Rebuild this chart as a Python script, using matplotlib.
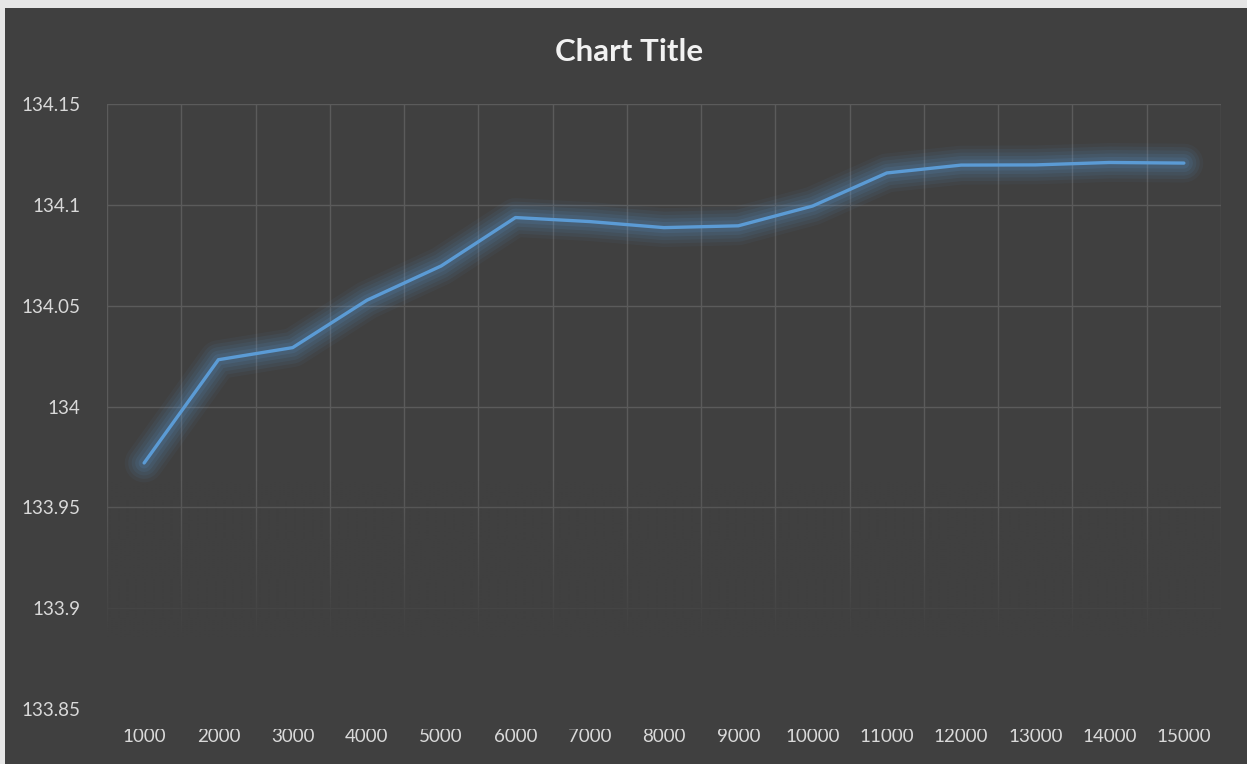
import numpy as np
import matplotlib
matplotlib.use("Agg")
import matplotlib.pyplot as plt
from matplotlib.patches import Rectangle
from matplotlib.ticker import FixedLocator

# sample sizes and the measured value for each
categories = ["1000", "2000", "3000", "4000", "5000", "6000", "7000", "8000",
              "9000", "10000", "11000", "12000", "13000", "14000", "15000"]
values = [133.972, 134.0232, 134.0292, 134.0527, 134.0697, 134.0937, 134.0917,
          134.0887, 134.0896, 134.0994, 134.1158, 134.1197, 134.1198, 134.1210,
          134.1207]
y_ticks = [133.85, 133.9, 133.95, 134.0, 134.05, 134.1, 134.15]
y_tick_labels = ["133.85", "133.9", "133.95", "134", "134.05", "134.1", "134.15"]

bg = "#404040"
grid_col = "#5b5b5b"
text_col = "#d9d9d9"
line_col = "#5b9bd5"

plt.rcParams["font.family"] = ["Lato", "DejaVu Sans"]

fig = plt.figure(figsize=(12.47, 7.64), dpi=100, facecolor=bg)
# thin light strip along the top and left edges
for r in [(0, 1 - 8 / 764, 1, 8 / 764), (0, 0, 5 / 1247, 1)]:
    fig.patches.append(Rectangle(r[:2], r[2], r[3], transform=fig.transFigure,
                                 facecolor="#e6e6e6", edgecolor="none"))

ax = fig.add_axes([107 / 1247, 1 - 709 / 764, (1221 - 107) / 1247, (709 - 104) / 764])
ax.set_facecolor(bg)

x = np.arange(len(categories))

# soft glow under the series line
for w, a in [(28, 0.05), (23, 0.07), (18, 0.08), (13, 0.10), (8, 0.13)]:
    ax.plot(x, values, color=line_col, lw=w, alpha=a, solid_capstyle="round",
            solid_joinstyle="round", zorder=3)
ax.plot(x, values, color=line_col, lw=2.4, solid_capstyle="round",
        solid_joinstyle="round", zorder=4)

ax.set_xticks(x)
ax.set_xticklabels(categories)
ax.xaxis.set_minor_locator(FixedLocator(np.arange(-0.5, len(categories), 1.0)))
ax.set_yticks(y_ticks)
ax.set_yticklabels(y_tick_labels)

ax.grid(False)
ax.set_axisbelow(True)
ax.xaxis.grid(True, which="minor", color=grid_col, lw=1.0)
ax.yaxis.grid(True, which="major", color=grid_col, lw=1.0)

# gridlines fade away toward the bottom of the plot area
fade_top, fade_bot = 133.963, 133.885
grad = np.zeros((100, 2, 4))
grad[..., :3] = np.array([0x40, 0x40, 0x40]) / 255
grad[..., 3] = np.linspace(0, 1, 100)[:, None]
ax.imshow(grad, extent=[-0.6, len(categories) - 0.4, fade_bot, fade_top],
          aspect="auto", origin="upper", zorder=1, interpolation="bilinear")
ax.add_patch(Rectangle((-0.6, y_ticks[0] - 0.01), len(categories) + 0.2,
                       fade_bot - y_ticks[0] + 0.01, facecolor=bg, edgecolor="none",
                       zorder=1, clip_on=False))
ax.set_xlim(-0.5, len(categories) - 0.5)
ax.set_ylim(y_ticks[0], y_ticks[-1])

for s in ax.spines.values():
    s.set_visible(False)
ax.tick_params(axis="both", which="both", length=0, labelcolor=text_col, labelsize=13.5)
ax.tick_params(axis="y", pad=19)
ax.tick_params(axis="x", pad=14)

fig.text(629 / 1247, 1 - 52 / 764, "Chart Title", ha="center", va="center",
         fontsize=22.5, fontweight="bold", color="#f2f2f2")

fig.savefig("out.png", dpi=100, facecolor=fig.get_facecolor())
